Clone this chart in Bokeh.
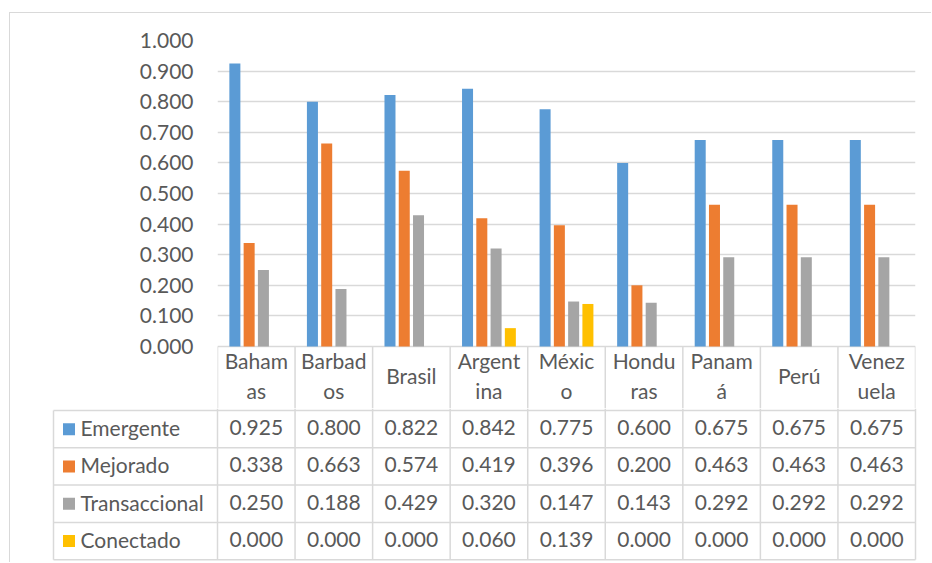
from bokeh.plotting import figure
from bokeh.layouts import column
from bokeh.models import Range1d, FixedTicker, NumeralTickFormatter
from bokeh.embed import file_html
from bokeh.resources import INLINE
from bokeh.core.properties import value

# ---------------- data ----------------
categories = ["Bahamas", "Barbados", "Brasil", "Argentina", "México",
              "Honduras", "Panamá", "Perú", "Venezuela"]
header_labels = ["Baham\nas", "Barbad\nos", "Brasil", "Argent\nina", "Méxic\no",
                 "Hondu\nras", "Panam\ná", "Perú", "Venez\nuela"]
series_names = ["Emergente", "Mejorado", "Transaccional", "Conectado"]
emergente = [0.925, 0.800, 0.822, 0.842, 0.775, 0.600, 0.675, 0.675, 0.675]
mejorado = [0.338, 0.663, 0.574, 0.419, 0.396, 0.200, 0.463, 0.463, 0.463]
transaccional = [0.250, 0.188, 0.429, 0.320, 0.147, 0.143, 0.292, 0.292, 0.292]
conectado = [0.000, 0.000, 0.000, 0.060, 0.139, 0.000, 0.000, 0.000, 0.000]
y_ticks = [0.0, 0.1, 0.2, 0.3, 0.4, 0.5, 0.6, 0.7, 0.8, 0.9, 1.0]
colors = ["#5B9BD5", "#ED7D31", "#A5A5A5", "#FFC000"]

series_values = [emergente, mejorado, transaccional, conectado]

# ---------------- styles ----------------
FONT = "Lato"
FS = "21px"
TXT = "#595959"
GRID = "#D9D9D9"
n = len(categories)

W = 921
FRAME_L, FRAME_R = 207, 16
PX = (W - FRAME_L - FRAME_R) / n   # pixels per category
PXV = 306.0                         # pixels per 1.0 on the value axis
HEADER_H = 62                       # header row part inside the bar figure (px)
Y_LOW = -HEADER_H / PXV
BAR_W = 0.142
PITCH = 0.184

# ---------------- bar chart (with the category header row) ----------------
p1 = figure(width=W, height=27 + int(PXV) + HEADER_H,
            x_range=Range1d(0, n), y_range=Range1d(Y_LOW, 1.0),
            x_axis_location=None, output_backend="svg", toolbar_location=None,
            min_border_left=FRAME_L, min_border_right=FRAME_R,
            min_border_top=27, min_border_bottom=0)
p1.frame_align = False
p1.outline_line_color = None
p1.background_fill_color = "white"
p1.border_fill_color = "white"
p1.xgrid.visible = False
p1.ygrid.ticker = FixedTicker(ticks=y_ticks)
p1.ygrid.grid_line_color = GRID
p1.ygrid.grid_line_width = 1.5

ax = p1.yaxis[0]
ax.ticker = FixedTicker(ticks=y_ticks)
ax.formatter = NumeralTickFormatter(format="0.000")
ax.axis_line_color = None
ax.major_tick_line_color = None
ax.minor_tick_line_color = None
ax.major_tick_out = 0
ax.major_tick_in = 0
ax.major_label_standoff = 24
ax.major_label_text_font = FONT
ax.major_label_text_font_size = FS
ax.major_label_text_color = TXT

for k, vals in enumerate(series_values):
    xs = [i + 0.5 + (k - 1.5) * PITCH for i in range(n)]
    p1.vbar(x=xs, top=vals, bottom=0, width=BAR_W, fill_color=colors[k],
            line_color=None)

# header cell borders and labels
p1.segment(x0=list(range(n + 1)), y0=[Y_LOW] * (n + 1),
           x1=list(range(n + 1)), y1=[0] * (n + 1),
           line_color=GRID, line_width=1.5)
p1.text(x=[i + 0.5 for i in range(n)], y=[-32 / PXV] * n, text=header_labels,
        text_align="center", text_baseline="middle", text_font=value(FONT),
        text_font_size=FS, text_color=TXT, text_line_height=1.2, y_offset=-3)

# ---------------- data table ----------------
TH = 154
TOP = HEADER_H   # table figure y coordinates: pixels below the zero line
HB = 64.0        # header row bottom
RH = 37.3        # row height
LEG_L = (53 - 217) / PX  # left edge of the legend column (category units)

p2 = figure(width=W, height=TH,
            x_range=Range1d(-FRAME_L / PX, (W - FRAME_L) / PX),
            y_range=Range1d(TOP + TH, TOP),
            x_axis_location=None, y_axis_location=None,
            output_backend="svg", toolbar_location=None, min_border=0)
p2.frame_align = False
p2.outline_line_color = None
p2.grid.visible = False
p2.background_fill_color = "white"
p2.border_fill_color = "white"

row_lines = [HB + RH * r for r in range(len(series_names) + 1)]
bottom = row_lines[-1]

vx0, vy0, vx1, vy1 = [], [], [], []
for i in range(n + 1):
    vx0.append(i); vx1.append(i); vy0.append(TOP); vy1.append(bottom)
vx0.append(LEG_L); vx1.append(LEG_L); vy0.append(HB); vy1.append(bottom)
for yl in row_lines:
    vx0.append(LEG_L); vx1.append(n); vy0.append(yl); vy1.append(yl)
p2.segment(x0=vx0, y0=vy0, x1=vx1, y1=vy1, line_color=GRID, line_width=1.5)

# values
tx, ty, tt = [], [], []
for r, vals in enumerate(series_values):
    for i, v in enumerate(vals):
        tx.append(i + 0.5)
        ty.append(HB + RH * (r + 0.5))
        tt.append(f"{v:.3f}")
p2.text(x=tx, y=ty, text=tt, text_align="center", text_baseline="middle",
        text_font=value(FONT), text_font_size=FS, text_color=TXT, y_offset=-1.5)

# legend keys
row_centers = [HB + RH * (r + 0.5) for r in range(len(series_names))]
p2.scatter(x=[LEG_L + 15.5 / PX] * len(series_names), y=row_centers,
           marker="square", size=12, fill_color=colors, line_color=None)
p2.text(x=[LEG_L + 27 / PX] * len(series_names), y=row_centers, text=series_names,
        text_align="left", text_baseline="middle", text_font=value(FONT),
        text_font_size=FS, text_color=TXT, y_offset=-1.5)

layout = column(p1, p2, margin=(12, 0, 0, 9),
                styles={"border-top": "1px solid #D9D9D9",
                        "border-left": "1px solid #D9D9D9"})

open("out.html", "w").write(file_html(layout, INLINE))
